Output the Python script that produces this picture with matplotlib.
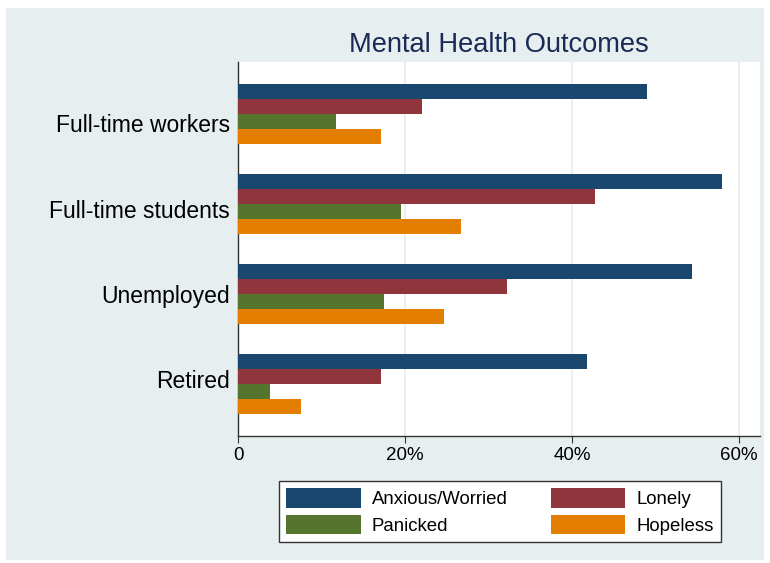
import numpy as np
import matplotlib.pyplot as plt
from matplotlib.patches import Rectangle

# categories and series (percent)
groups = ['Full-time workers', 'Full-time students', 'Unemployed', 'Retired']
series = ['Anxious/Worried', 'Lonely', 'Panicked', 'Hopeless']
anxious = [49.0, 58.0, 54.4, 41.8]
lonely = [22.0, 42.8, 32.2, 17.1]
panicked = [11.7, 19.5, 17.5, 3.8]
hopeless = [17.1, 26.7, 24.7, 7.5]
colors = ['#1a476f', '#90353b', '#55752f', '#e37e00']
xticks = [0, 20, 40, 60]
xticklabels = ['0', '20%', '40%', '60%']

plt.rcParams['font.family'] = ['Liberation Sans', 'DejaVu Sans']

fig = plt.figure(figsize=(7.7, 5.63), dpi=100)
fig.patch.set_facecolor('white')
# graph region background
fig.patches.append(Rectangle((6 / 770, 3 / 563), 758 / 770, 552 / 563,
                             transform=fig.transFigure, facecolor='#e6eef0',
                             edgecolor='none', zorder=-5))

ax = fig.add_axes([238 / 770, 1 - 436 / 563, 522 / 770, 374 / 563])
ax.set_facecolor('white')

# bar layout: 4 bars of height 1 per group, group spacing 6
gap = 6
centers = np.arange(len(groups)) * gap
values = [anxious, lonely, panicked, hopeless]
for k, (vals, col) in enumerate(zip(values, colors)):
    ypos = centers - 1.5 + k
    ax.barh(ypos, vals, height=1.0, color=col, label=series[k], zorder=3)

ax.set_ylim(centers[-1] + 3.5, centers[0] - 3.5)
ax.set_xlim(0, 62.5)

# category labels sit slightly compressed toward the middle, as in Stata
mid = centers.mean()
ax.set_yticks(mid + (centers - mid) * 0.95 + 0.15)
ax.set_yticklabels(groups, fontsize=16.5)
ax.tick_params(axis='y', length=0, pad=6)

ax.set_xticks(xticks)
ax.set_xticklabels(xticklabels, fontsize=13.5)
ax.tick_params(axis='x', length=5, pad=3, color='#333333')
ax.grid(axis='x', color='#e6eef0', linewidth=1.2, zorder=0)

for s in ['top', 'right']:
    ax.spines[s].set_visible(False)
for s in ['left', 'bottom']:
    ax.spines[s].set_color('#333333')
    ax.spines[s].set_linewidth(1.0)

fig.text((238 + 760) / 2 / 770, 1 - 45 / 563, 'Mental Health Outcomes',
         ha='center', va='center', fontsize=19.6, color='#1a2a55')

handles, labels = ax.get_legend_handles_labels()
order = [0, 2, 1, 3]   # row-wise like Stata
leg = fig.legend([handles[i] for i in order], [labels[i] for i in order],
                 ncol=2, loc='center', bbox_to_anchor=(500 / 770, 1 - 511.5 / 563),
                 fontsize=13.4, frameon=True, fancybox=False, framealpha=1,
                 handlelength=4.0, handleheight=1.25, columnspacing=2.3,
                 handletextpad=0.6, borderpad=0.4, labelspacing=0.35,
                 borderaxespad=0)
leg.get_frame().set_edgecolor('#333333')
leg.get_frame().set_facecolor('white')
leg.get_frame().set_linewidth(1.0)

fig.savefig('out.png', dpi=100, facecolor=fig.get_facecolor())
